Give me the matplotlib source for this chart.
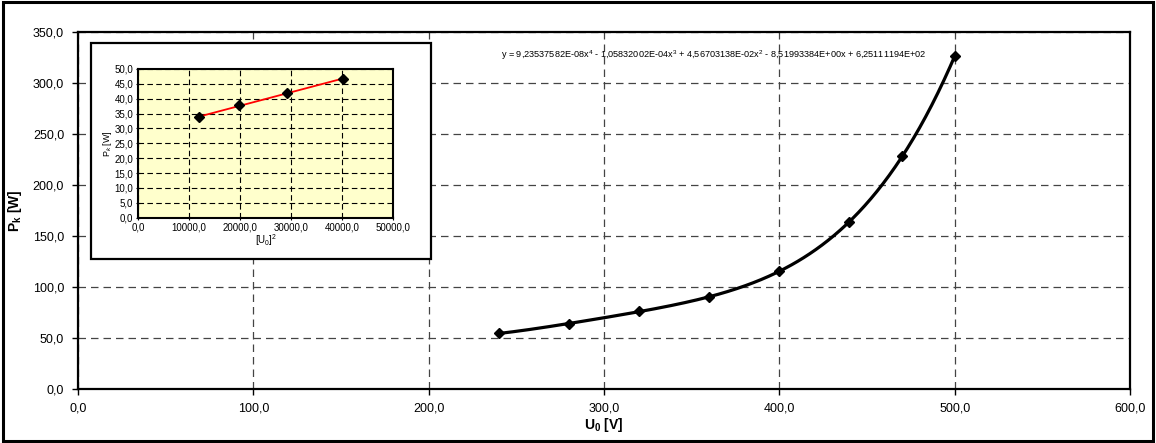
import numpy as np
import matplotlib
matplotlib.use("Agg")
import matplotlib.pyplot as plt
from matplotlib.patches import Rectangle
from matplotlib.ticker import FuncFormatter, MultipleLocator

plt.rcParams['font.family'] = ['Liberation Sans', 'DejaVu Sans']
plt.rcParams['mathtext.fontset'] = 'custom'
plt.rcParams['mathtext.rm'] = 'Liberation Sans'
plt.rcParams['mathtext.it'] = 'Liberation Sans:italic'
plt.rcParams['mathtext.bf'] = 'Liberation Sans:bold'

# main series: P_k vs U_0
u0 = [240, 280, 320, 360, 400, 440, 470, 500]
pk = [54.5, 64.0, 76.0, 90.5, 115.5, 163.5, 228.5, 326.0]

# inset series: P_k vs [U_0]^2
u0sq = [12000, 19700, 29100, 40100]
pk_in = [33.8, 37.8, 41.8, 46.7]

eq_text = (r"y = 9,23537582E-08x$^{4}$ - 1,05832002E-04x$^{3}$ + 4,56703138E-02x$^{2}$"
           r" - 8,51993384E+00x + 6,25111194E+02")

def comma(v, p):
    return ("%.1f" % v).replace(".", ",")

W, H = 1156, 443
fig = plt.figure(figsize=(W/100, H/100), dpi=100)

# outer chart border
fig.patches.append(Rectangle((3/W, 2/H), 1150/W, 439/H, transform=fig.transFigure,
                             fill=False, ec='black', lw=2.2, zorder=0))

ax = fig.add_axes([78/W, (H-389)/H, (1130-78)/W, (389-32)/H])
ax.set_xlim(0, 600)
ax.set_ylim(0, 350)
ax.xaxis.set_major_locator(MultipleLocator(100))
ax.yaxis.set_major_locator(MultipleLocator(50))
ax.xaxis.set_major_formatter(FuncFormatter(comma))
ax.yaxis.set_major_formatter(FuncFormatter(comma))
ax.grid(True, color='#444444', ls=(0, (6, 4)), lw=0.9)
ax.tick_params(labelsize=9, length=4, width=1, direction='out', pad=6)
for s in ax.spines.values():
    s.set_linewidth(1.6)

# 4th order trendline
coef = np.polyfit(u0, pk, 4)
xs = np.linspace(min(u0), max(u0), 300)
ax.plot(xs, np.polyval(coef, xs), color='black', lw=2.3, zorder=3)
ax.plot(u0, pk, ls='none', marker='D', ms=5.5, color='black', zorder=4)
ax.text(241, 327, eq_text, fontsize=6.6, ha='left', va='center', zorder=5)

ax.set_xlabel(r"U$_\mathbf{0}$ [V]", fontsize=10, fontweight='bold', labelpad=1)
ax.set_ylabel(r"P$_\mathbf{k}$ [W]", fontsize=10, fontweight='bold', labelpad=6)

# inset frame
fig.patches.append(Rectangle((91/W, (H-259)/H), 340/W, 216/H, transform=fig.transFigure,
                             fc='white', ec='black', lw=1.6, zorder=1))

axi = fig.add_axes([138/W, (H-217.7)/H, (393.3-138)/W, (217.7-69)/H])
axi.set_zorder(2)
axi.set_facecolor('#FFFFCC')
axi.set_xlim(0, 50000)
axi.set_ylim(0, 50)
axi.xaxis.set_major_locator(MultipleLocator(10000))
axi.yaxis.set_major_locator(MultipleLocator(5))
axi.xaxis.set_major_formatter(FuncFormatter(comma))
axi.yaxis.set_major_formatter(FuncFormatter(comma))
axi.grid(True, color='black', ls=(0, (5, 3)), lw=0.8)
axi.tick_params(labelsize=7, length=3, width=0.8, direction='inout', pad=2)
for s in axi.spines.values():
    s.set_linewidth(1.5)

lin = np.polyfit(u0sq, pk_in, 1)
xl = np.array([min(u0sq), max(u0sq)])
axi.plot(xl, np.polyval(lin, xl), color='red', lw=1.3, zorder=3)
axi.plot(u0sq, pk_in, ls='none', marker='D', ms=5, color='black', zorder=4)
axi.set_xlabel(r"[U$_0$]$^2$", fontsize=7, labelpad=0)
axi.set_ylabel(r"P$_k$ [W]", fontsize=6.5, labelpad=0)

fig.savefig("out.png", dpi=100)
